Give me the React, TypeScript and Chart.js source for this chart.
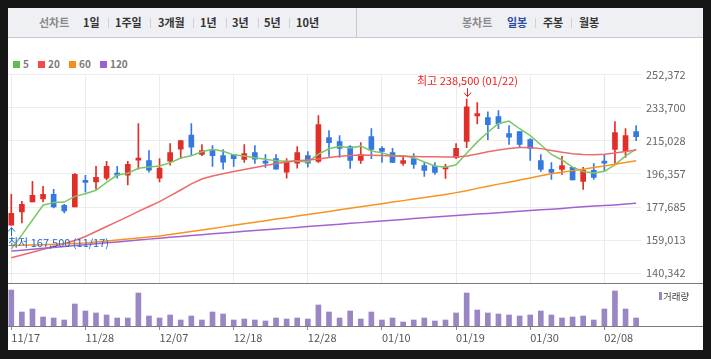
import React, { useEffect, useRef } from 'react';
import { Chart, registerables } from 'chart.js';

Chart.register(...registerables);

const FONT = '"Noto Sans CJK KR", "Noto Sans", sans-serif';

const opens = [167500,174900,180500,182200,184800,178700,177700,192100,191800,194000,
  196600,195700,204100,203900,194000,203500,210300,218300,207300,209500,
  206700,207300,204500,208400,203400,205000,197400,202400,206700,203400,
  216800,214600,211800,203900,217400,210700,208400,202200,205000,201100,
  200600,199200,205600,214600,229000,228100,228600,219100,220200,215700,
  203900,198900,198900,200000,192100,198300,203400,210100,209000,220200];
const highs = [184800,180900,192100,189300,187600,179200,196600,195500,200600,203400,
  200600,203400,224700,209500,205000,213500,215100,224700,212900,212300,
  210100,207300,212900,212300,207300,207300,205000,211800,209000,229200,
  220800,217900,212300,214000,221900,211800,210700,206700,207800,202800,
  202800,201700,213500,238500,236500,231400,232000,223600,220200,216300,
  207300,202800,206200,200000,200000,202200,207300,225800,221900,223600];
const lows = [167500,168700,180500,180500,177200,174400,177700,186100,187800,192900,
  194000,190100,199000,197400,191800,201300,205000,206700,206700,200600,
  199000,200600,202800,202200,200000,199000,194000,199600,200200,202800,
  206200,205600,199400,202200,205000,202800,202800,201100,199400,194900,
  196100,193800,205000,211200,224500,215700,221900,212900,211200,203900,
  197700,193300,196100,192900,187600,193300,197700,202200,205600,215100];
const closes = [174200,179200,184300,184800,177700,175500,196100,191600,194400,200600,
  195700,201700,205000,198500,199600,208400,215100,211400,209500,206700,
  203000,205000,207800,204700,202400,199000,203400,208400,202400,224100,
  214000,210700,203900,207300,210100,209000,202800,203900,201700,198300,
  197200,199600,210700,234200,230300,224100,224700,217000,212900,210700,
  198900,197200,201100,192900,198300,194400,202400,219600,217900,217400];
const volumes = [1080000,420000,510000,270000,240000,180000,660000,450000,390000,330000,
  240000,240000,990000,300000,240000,330000,180000,300000,180000,420000,
  360000,180000,210000,180000,150000,240000,210000,240000,210000,630000,
  420000,240000,450000,210000,420000,180000,240000,120000,180000,240000,
  150000,180000,390000,990000,480000,390000,360000,330000,300000,330000,
  450000,330000,240000,270000,300000,180000,510000,1050000,510000,240000];

const ma5 = [154000,162000,170400,178700,180300,180500,183700,185200,187100,191600,
  195700,196700,199500,200300,200800,202600,205300,206600,208800,210200,
  209100,207100,206400,205400,204600,203800,203500,203600,203100,207500,
  210500,211900,211000,212000,209200,208200,206600,206600,205500,203100,
  200800,200100,201500,208000,214400,219800,224800,226100,221800,217900,
  212800,207300,204200,200200,197700,196800,197800,201500,206500,210300];
const ma20 = [149100,150700,152200,153900,155400,157100,158800,161100,163900,166700,
  169500,172300,175200,178000,180700,184000,187300,190700,193500,195200,
  196400,197700,198800,200000,201100,202200,203100,203700,204200,204800,
  205600,206300,206700,207000,206900,206700,206400,206300,206100,206000,
  206000,205900,205900,206400,207600,208900,209800,210700,211300,211200,
  210600,209500,208500,207700,207300,207200,207400,208100,209000,209800];
const ma60 = [155900,156100,156300,156500,156700,157000,157200,157400,158000,158500,
  159100,159700,160200,160800,161400,162200,163100,163900,164700,165600,
  166500,167400,168200,169100,170000,170900,171700,172600,173500,174300,
  175200,176100,177000,177800,178700,179600,180500,181300,182200,183100,
  183900,184800,185800,186900,188200,189400,190600,191700,192900,194100,
  195300,196500,197300,198200,199000,199900,200800,201800,202800,203800];
const ma120 = [152900,153400,153900,154400,154900,155400,156000,156500,157000,157500,
  158000,158500,159100,159600,160100,160600,161100,161600,162100,162600,
  163100,163500,164000,164400,164900,165300,165800,166200,166700,167100,
  167600,168000,168500,168900,169400,169800,170300,170700,171200,171700,
  172100,172500,172900,173300,173700,174100,174500,174900,175300,175700,
  176100,176500,176900,177400,177800,178200,178500,178900,179400,179800];

const priceTicks = [140342, 159013, 177685, 196357, 215028, 233700, 252372];
const dateTickIndex = [0, 7, 14, 21, 28, 35, 42, 49, 56];
const dateTickLabels = ['11/17', '11/28', '12/07', '12/18', '12/28', '01/10', '01/19', '01/30', '02/08'];

const maLabels = ['5', '20', '60', '120'];
const maColors = ['#79c865', '#ee6a6a', '#f7931e', '#a262d0'];
const maLegendColors = ['#5cbf4a', '#ef4b4b', '#f78b1d', '#9d5fce'];

const highIndex = 43;
const highValue = 238500;
const highDate = '01/22';
const lowIndex = 0;
const lowValue = 167500;
const lowDate = '11/17';

const UP = '#e22e28';
const DOWN = '#3579e0';
const X_MIN = -0.31;
const X_MAX = 59.46;

const fmt = (v: number) => Number(v).toLocaleString('en-US');
const candleColor = (i: number) => (closes[i] >= opens[i] ? UP : DOWN);

const hiLoPlugin = {
  id: 'hilo',
  afterDatasetsDraw(chart: any) {
    const { ctx, scales } = chart;
    const x = scales.x, y = scales.y;
    ctx.save();
    ctx.font = '11px ' + FONT;
    ctx.lineWidth = 1;
    // highest
    const hx = Math.round(x.getPixelForValue(highIndex)) + 0.5;
    const hy = y.getPixelForValue(highValue);
    ctx.strokeStyle = '#f21b1b';
    ctx.fillStyle = '#f21b1b';
    ctx.beginPath();
    ctx.moveTo(hx, hy - 11);
    ctx.lineTo(hx, hy - 2.5);
    ctx.moveTo(hx - 3.5, hy - 6.5);
    ctx.lineTo(hx, hy - 2.5);
    ctx.lineTo(hx + 3.5, hy - 6.5);
    ctx.stroke();
    ctx.textAlign = 'center';
    ctx.textBaseline = 'middle';
    ctx.fillText('최고 ' + fmt(highValue) + ' (' + highDate + ')', hx, hy - 18);
    // lowest
    const lx = Math.round(x.getPixelForValue(lowIndex)) + 0.5;
    const ly = y.getPixelForValue(lowValue);
    ctx.strokeStyle = '#1f63d8';
    ctx.fillStyle = '#1f63d8';
    ctx.beginPath();
    ctx.moveTo(lx, ly + 11);
    ctx.lineTo(lx, ly + 2.5);
    ctx.moveTo(lx - 3.5, ly + 6.5);
    ctx.lineTo(lx, ly + 2.5);
    ctx.lineTo(lx + 3.5, ly + 6.5);
    ctx.stroke();
    ctx.textAlign = 'left';
    ctx.fillText('최저 ' + fmt(lowValue) + ' (' + lowDate + ')', 0, ly + 18);
    ctx.restore();
  },
};

export default function App() {
  const priceRef = useRef<HTMLCanvasElement>(null);
  const volRef = useRef<HTMLCanvasElement>(null);

  useEffect(() => {
    const idx = opens.map((_, i) => i);
    const colors = idx.map(candleColor);
    const maSeries = [ma5, ma20, ma60, ma120];

    const price = new Chart(priceRef.current as HTMLCanvasElement, {
      type: 'bar',
      data: {
        datasets: [
          ...maSeries.map((s, k) => ({
            type: 'line' as const,
            label: 'MA' + maLabels[k],
            data: idx.map((i) => ({ x: i, y: s[i] })),
            borderColor: maColors[k],
            borderWidth: 1.5,
            pointRadius: 0,
            tension: 0,
            order: 4 - k,
          })),
          {
            type: 'bar' as const,
            label: 'wick',
            data: idx.map((i) => ({ x: i, y: [lows[i], highs[i]] })),
            backgroundColor: colors,
            barThickness: 1,
            grouped: false,
            order: 10,
          },
          {
            type: 'bar' as const,
            label: 'body',
            data: idx.map((i) => ({ x: i, y: [opens[i], closes[i]] })),
            backgroundColor: colors,
            barThickness: 5,
            minBarLength: 2,
            grouped: false,
            order: 9,
          },
        ] as any,
      },
      options: {
        animation: false,
        responsive: false,
        devicePixelRatio: 1,
        events: [],
        layout: { padding: { top: 14.5, bottom: 6.7, left: 0, right: 0 } },
        plugins: { legend: { display: false }, tooltip: { enabled: false } },
        scales: {
          x: {
            type: 'linear',
            min: X_MIN,
            max: X_MAX,
            offset: false,
            afterBuildTicks: (s: any) => { s.ticks = dateTickIndex.map((v) => ({ value: v })); },
            afterFit: (s: any) => { s.height = 0; s.paddingLeft = 0; s.paddingRight = 0; },
            grid: { color: '#ececec', drawTicks: false, offset: false },
            border: { display: false },
            ticks: { display: false },
          },
          y: {
            type: 'linear',
            position: 'right',
            min: 134707,
            max: 252372,
            beginAtZero: false,
            afterBuildTicks: (s: any) => { s.ticks = priceTicks.map((v) => ({ value: v })); },
            afterFit: (s: any) => { s.width = 62; s.paddingTop = 0; s.paddingBottom = 0; },
            grid: { color: '#ececec', drawTicks: false },
            border: { display: false },
            ticks: {
              padding: 5,
              color: '#666',
              font: { size: 11, family: FONT },
              callback: (v: any) => fmt(v),
            },
          },
        },
      } as any,
      plugins: [hiLoPlugin],
    });

    const vol = new Chart(volRef.current as HTMLCanvasElement, {
      type: 'bar',
      data: {
        datasets: [
          {
            label: '거래량',
            data: idx.map((i) => ({ x: i, y: volumes[i] })),
            backgroundColor: '#9a86c4',
            barThickness: 5,
            grouped: false,
          },
        ] as any,
      },
      options: {
        animation: false,
        responsive: false,
        devicePixelRatio: 1,
        events: [],
        layout: { padding: { top: 0, bottom: 0, left: 0, right: 62 } },
        plugins: { legend: { display: false }, tooltip: { enabled: false } },
        scales: {
          x: {
            type: 'linear',
            min: X_MIN,
            max: X_MAX,
            offset: false,
            afterBuildTicks: (s: any) => { s.ticks = dateTickIndex.map((v) => ({ value: v })); },
            afterFit: (s: any) => { s.height = 24; s.paddingLeft = 0; s.paddingRight = 0; },
            grid: { drawOnChartArea: false, drawTicks: true, tickLength: 4, color: '#8c8c8c', offset: false },
            border: { display: false },
            ticks: {
              align: 'start',
              padding: 1,
              autoSkip: false,
              maxRotation: 0,
              color: '#555',
              font: { size: 11, family: FONT },
              callback: (v: any) => dateTickLabels[dateTickIndex.indexOf(Number(v))] ?? '',
            },
          },
          y: {
            display: false,
            min: 0,
            max: 1260000,
          },
        },
      } as any,
    });

    return () => {
      price.destroy();
      vol.destroy();
    };
  }, []);

  const leftItems = [
    { t: '선차트', x: 39, c: '#8a8a8a' },
    { t: '1일', x: 83, c: '#333' },
    { t: '1주일', x: 115, c: '#333' },
    { t: '3개월', x: 158, c: '#333' },
    { t: '1년', x: 200, c: '#333' },
    { t: '3년', x: 232, c: '#333' },
    { t: '5년', x: 264, c: '#333' },
    { t: '10년', x: 296, c: '#333' },
    { t: '봉차트', x: 462, c: '#8a8a8a' },
    { t: '일봉', x: 507, c: '#2a4ca6' },
    { t: '주봉', x: 543, c: '#333' },
    { t: '월봉', x: 579, c: '#333' },
  ];
  const seps = [108, 150, 193, 226, 258, 289, 535, 571];
  const legendSquareX = [13, 38, 69, 100];
  const legendTextX = [23, 48, 79, 110];

  return (
    <div style={{ position: 'relative', width: 695, height: 342, background: '#fff', overflow: 'hidden', fontFamily: FONT }}>
      <style>{'body{background:#161616;margin:8px;}'}</style>
      <div style={{ position: 'absolute', left: 0, top: 0, width: 695, height: 29, background: '#eff0f4', borderBottom: '1px solid #c9c9cc' }} />
      <div style={{ position: 'absolute', left: 348, top: 0, width: 1, height: 29, background: '#c9c9cc' }} />
      {leftItems.map((it) => (
        <span key={it.t} style={{ position: 'absolute', left: it.x - 8, top: 0, height: 29, lineHeight: '29px', fontSize: 11, fontWeight: 700, color: it.c, whiteSpace: 'nowrap' }}>{it.t}</span>
      ))}
      {seps.map((x) => (
        <div key={x} style={{ position: 'absolute', left: x - 8, top: 10, width: 1, height: 10, background: '#d2d2d6' }} />
      ))}
      {maLabels.map((l, k) => (
        <React.Fragment key={l}>
          <div style={{ position: 'absolute', left: legendSquareX[k] - 8, top: 53, width: 7, height: 7, background: maLegendColors[k] }} />
          <span style={{ position: 'absolute', left: legendTextX[k] - 8, top: 50, lineHeight: '12px', fontSize: 10, fontWeight: 700, color: '#7a7a7a' }}>{l}</span>
        </React.Fragment>
      ))}
      <canvas ref={priceRef} width={695} height={230} style={{ position: 'absolute', left: 0, top: 52, width: 695, height: 230 }} />
      <canvas ref={volRef} width={695} height={66} style={{ position: 'absolute', left: 0, top: 276, width: 695, height: 66 }} />
      <div style={{ position: 'absolute', left: 0, top: 275, width: 695, height: 1, background: '#7a7a7a' }} />
      <div style={{ position: 'absolute', left: 0, top: 318, width: 695, height: 1, background: '#7a7a7a' }} />
      <div style={{ position: 'absolute', left: 651, top: 284, width: 3, height: 8, background: '#9a86c4' }} />
      <span style={{ position: 'absolute', left: 655, top: 282, lineHeight: '12px', fontSize: 9.5, color: '#444', whiteSpace: 'nowrap' }}>거래량</span>
    </div>
  );
}
